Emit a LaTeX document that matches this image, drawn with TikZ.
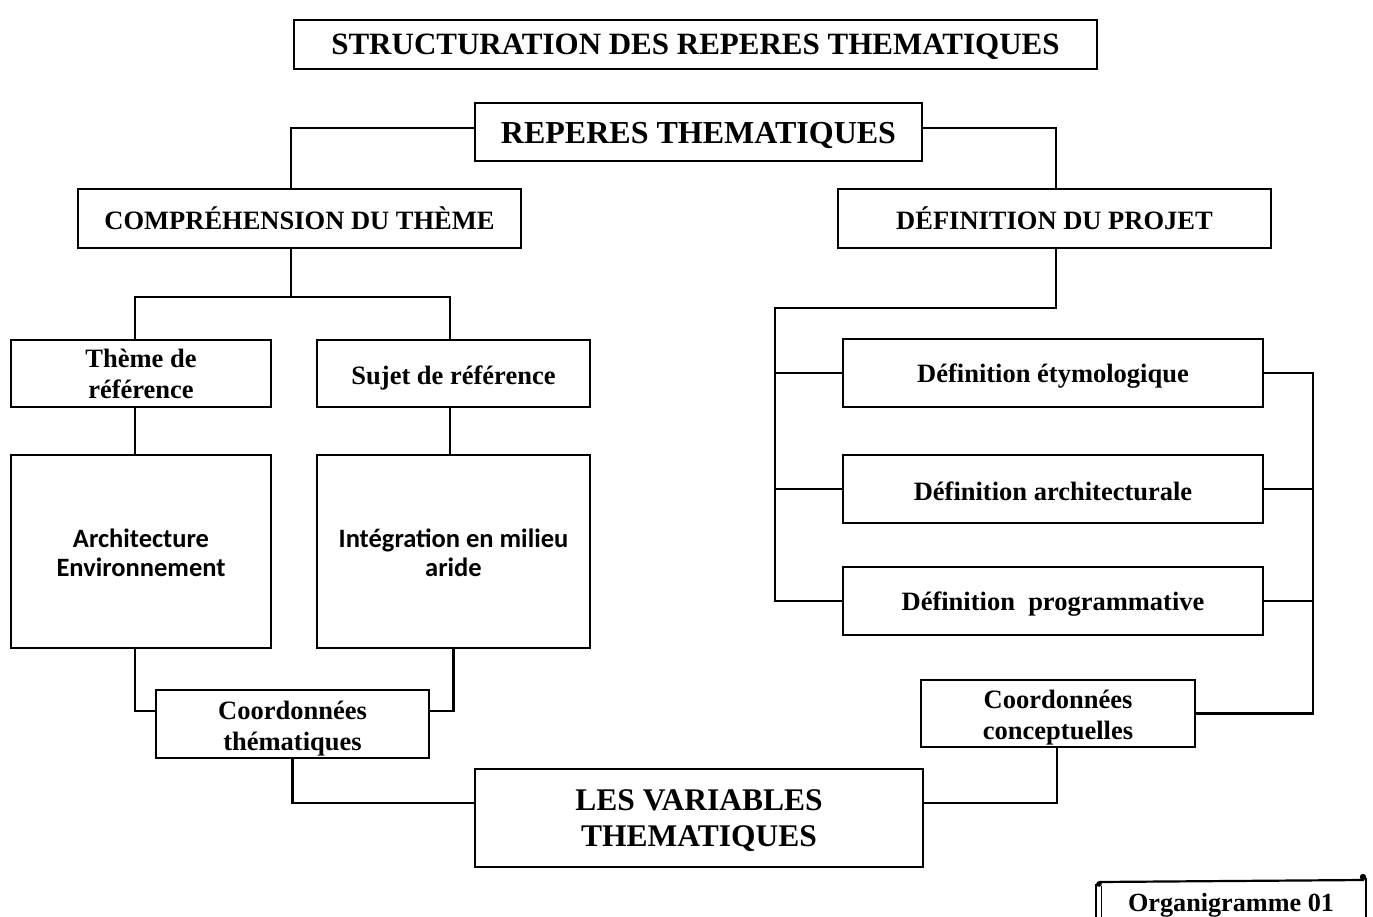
\documentclass[tikz,border=0pt]{standalone}
\usepackage{fontspec}
\setmainfont{Liberation Serif}
\newfontfamily\calib{Carlito}
\begin{document}
\begin{tikzpicture}[x=1pt,y=-1pt,line width=2.2pt,
  box/.style={draw,inner sep=0pt},
  txt/.style={inner sep=0pt,align=center,font=\bfseries\fontsize{26.5}{31}\selectfont},
  bigtxt/.style={txt,font=\bfseries\fontsize{31.5}{36}\selectfont},
  ctxt/.style={txt,font=\calib\bfseries\fontsize{26.5}{29}\selectfont}]
\useasboundingbox[fill=white] (0,0) rectangle (1373,917);
% boxes
\node[box,minimum width=803,minimum height=49] (title) at (695.5,44.5) {};
\node[box,minimum width=447,minimum height=58] (rep) at (698.5,132) {};
\node[box,minimum width=443,minimum height=59] (comp) at (299.5,218.5) {};
\node[box,minimum width=433,minimum height=59] (defp) at (1054.5,218.5) {};
\node[box,minimum width=260,minimum height=67] (theme) at (141,373.5) {};
\node[box,minimum width=273,minimum height=67] (sujet) at (453.5,373.5) {};
\node[box,minimum width=260,minimum height=193] (arch) at (141,551.5) {};
\node[box,minimum width=273,minimum height=193] (integ) at (453.5,551.5) {};
\node[box,minimum width=273,minimum height=68] (cth) at (292.5,724) {};
\node[box,minimum width=448,minimum height=98] (var) at (699,818) {};
\node[box,minimum width=274,minimum height=67] (ccon) at (1058,713.5) {};
\node[box,minimum width=420,minimum height=68] (det) at (1053,373) {};
\node[box,minimum width=420,minimum height=68] (dar) at (1053,489) {};
\node[box,minimum width=420,minimum height=68] (dpr) at (1053,601) {};
% texts
\node[txt,font=\bfseries\fontsize{31}{36}\selectfont] (ttitle) at ([yshift=-2]title.center) {STRUCTURATION DES REPERES THEMATIQUES};
\node[txt,font=\bfseries\fontsize{32}{36}\selectfont] (trep) at ([yshift=-4]rep.center) {REPERES THEMATIQUES};
\node[txt] (tcomp) at (comp.center) {COMPRÉHENSION DU THÈME};
\node[txt] (tdefp) at (defp.center) {DÉFINITION DU PROJET};
\node[txt] (ttheme) at (theme.center) {Thème de\\référence};
\node[txt] (tsujet) at ([yshift=-4]sujet.center) {Sujet de référence};
\node[ctxt] (tarch) at ([yshift=-1]arch.center) {Architecture\\Environnement};
\node[ctxt] (tinteg) at ([yshift=-1]integ.center) {Intégration en milieu\\aride};
\node[txt] (tcth) at ([yshift=-5]cth.center) {Coordonnées\\thématiques};
\node[bigtxt] (tvar) at ([yshift=-3]var.center) {LES VARIABLES\\THEMATIQUES};
\node[txt] (tccon) at ([yshift=-4]ccon.center) {Coordonnées\\conceptuelles};
\node[txt] (tdet) at ([yshift=-3]det.center) {Définition étymologique};
\node[txt] (tdar) at ([yshift=-2]dar.center) {Définition architecturale};
\node[txt] (tdpr) at ([yshift=-3]dpr.center) {Définition~ programmative};
% connectors
\draw ([yshift=4]rep.west) -| ([xshift=-8.5]comp.north);
\draw ([yshift=4]rep.east) -| ([xshift=1.5]defp.north);
\coordinate (j1) at (291,297);
\draw ([xshift=-8.5]comp.south) -- (j1);
\draw ([xshift=-6]theme.north) |- (j1);
\draw ([xshift=-3.5]sujet.north) |- (j1);
\draw ([xshift=-6]theme.south) -- ([xshift=-6]arch.north);
\draw ([xshift=-3.5]sujet.south) -- ([xshift=-3.5]integ.north);
\draw ([xshift=-6]arch.south) |- ([yshift=13]cth.west);
\draw (integ.south) |- ([yshift=13]cth.east);
\draw (cth.south) |- ([yshift=15]var.west);
\draw ([xshift=-1]ccon.south) |- ([yshift=15]var.east);
\coordinate (jl) at (775,308);
\draw ([xshift=1.5]defp.south) |- (jl) |- (dpr.west);
\draw (det.west) -- (det.west -| jl);
\draw (dar.west) -- (dar.west -| jl);
\coordinate (jr) at (1313,376);
\draw (det.east) -- (det.east -| jr) |- (ccon.east);
\draw (dar.east) -- (dar.east -| jr);
\draw (dpr.east) -- (dpr.east -| jr);
% Organigramme scroll
\begin{scope}
\clip (0,0) rectangle (1373,917);
\node[font=\bfseries\fontsize{26.2}{30}\selectfont] (org) at (1231,905) {Organigramme 01};
\draw (1099,882) -- (1364,880);
\draw (1366,878) -- (1366,930);
\draw (1096,884) -- (1096,930);
\draw[line width=1.4pt] (1101.5,886) -- (1101.5,930);
\fill (1099,884) circle (2.8);
\fill (1363,877) circle (3.2);
\end{scope}
\end{tikzpicture}
\end{document}
